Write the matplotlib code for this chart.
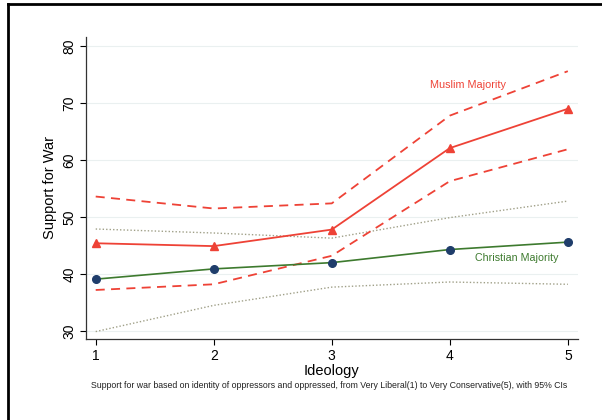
import matplotlib
matplotlib.use("Agg")
import matplotlib.pyplot as plt
from matplotlib.lines import Line2D

plt.rcParams['font.family'] = ['Liberation Sans', 'DejaVu Sans']

ideology = [1, 2, 3, 4, 5]
muslim = [45.4, 44.9, 47.8, 62.1, 69.0]
muslim_hi = [53.6, 51.5, 52.4, 67.8, 75.6]
muslim_lo = [37.2, 38.2, 43.2, 56.3, 61.9]
christian = [39.1, 40.9, 42.0, 44.3, 45.6]
christian_hi = [47.9, 47.2, 46.3, 49.9, 52.8]
christian_lo = [29.9, 34.5, 37.7, 38.6, 38.2]
yticks = [30, 40, 50, 60, 70, 80]

red = '#ee4236'
green = '#3d7a2e'
navy = '#1f3d6b'
dotc = '#a0a088'

fig = plt.figure(figsize=(6.02, 4.2), dpi=100)
ax = fig.add_axes([0.1429, 0.1929, 0.817, 0.719])

for y in yticks:
    ax.axhline(y, color='#eaf0f0', lw=0.8, zorder=0)

ax.plot(ideology, christian_hi, ls=(0, (1, 1.5)), color=dotc, lw=1.0, zorder=2)
ax.plot(ideology, christian_lo, ls=(0, (1, 1.5)), color=dotc, lw=1.0, zorder=2)
ax.plot(ideology, muslim_hi, ls=(0, (5, 3.5)), color=red, lw=1.3, zorder=3)
ax.plot(ideology, muslim_lo, ls=(0, (5, 3.5)), color=red, lw=1.3, zorder=3)
ax.plot(ideology, christian, color=green, lw=1.2, zorder=4)
ax.plot(ideology, christian, ls='none', marker='o', ms=5.5, color=navy, zorder=5)
ax.plot(ideology, muslim, color=red, lw=1.3, marker='^', ms=6, zorder=5)

ax.text(3.83, 73.2, 'Muslim Majority', color=red, fontsize=7.8, va='center')
ax.text(4.21, 42.8, 'Christian Majority', color=green, fontsize=7.7, va='center')

ax.set_xlim(0.918, 5.085)
ax.set_ylim(28.6, 81.6)
ax.set_xticks(ideology)
ax.set_yticks(yticks)
ax.tick_params(axis='y', labelrotation=90, labelsize=10, length=4, width=0.8, pad=3)
ax.tick_params(axis='x', labelsize=10, length=4, width=0.8, pad=3)
for lab in ax.get_yticklabels():
    lab.set_va('center')
ax.spines['top'].set_visible(False)
ax.spines['right'].set_visible(False)
for s in ('left', 'bottom'):
    ax.spines[s].set_linewidth(0.9)
    ax.spines[s].set_color('#333333')

ax.set_xlabel('Ideology', fontsize=10.5, labelpad=1)
ax.set_ylabel('Support for War', fontsize=10.5, labelpad=4)

fig.text(0.547, 0.083, 'Support for war based on identity of oppressors and oppressed, from Very Liberal(1) to Very Conservative(5), with 95% CIs',
         ha='center', va='center', fontsize=6.3, color='#222222')

# outer frame (top and left edges)
fig.add_artist(Line2D([0.013, 1.0], [0.991, 0.991], color='black', lw=2.0, transform=fig.transFigure))
fig.add_artist(Line2D([0.013, 0.013], [0.0, 0.991], color='black', lw=2.0, transform=fig.transFigure))

fig.savefig('out.png', dpi=100)
